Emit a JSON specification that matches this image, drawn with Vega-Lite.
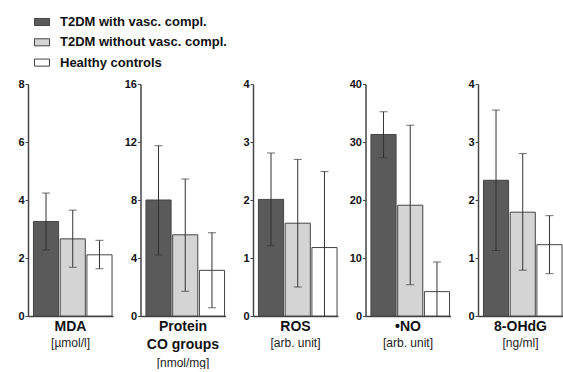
{
  "$schema": "https://vega.github.io/schema/vega-lite/v6.json",
  "padding": {"left": 17, "top": 14, "right": 0, "bottom": 0},
  "background": "white",
  "data": {"values": [
    {"panel": "MDA", "group": "T2DM with vasc. compl.", "mean": 3.26, "lo": 2.28, "hi": 4.24},
    {"panel": "MDA", "group": "T2DM without vasc. compl.", "mean": 2.66, "lo": 1.68, "hi": 3.65},
    {"panel": "MDA", "group": "Healthy controls", "mean": 2.11, "lo": 1.63, "hi": 2.61},
    {"panel": "Protein", "group": "T2DM with vasc. compl.", "mean": 8.0, "lo": 4.2, "hi": 11.75},
    {"panel": "Protein", "group": "T2DM without vasc. compl.", "mean": 5.6, "lo": 1.7, "hi": 9.45},
    {"panel": "Protein", "group": "Healthy controls", "mean": 3.15, "lo": 0.57, "hi": 5.75},
    {"panel": "ROS", "group": "T2DM with vasc. compl.", "mean": 2.01, "lo": 1.21, "hi": 2.81},
    {"panel": "ROS", "group": "T2DM without vasc. compl.", "mean": 1.6, "lo": 0.5, "hi": 2.7},
    {"panel": "ROS", "group": "Healthy controls", "mean": 1.18, "lo": -0.13, "hi": 2.49},
    {"panel": "NO", "group": "T2DM with vasc. compl.", "mean": 31.3, "lo": 27.3, "hi": 35.2},
    {"panel": "NO", "group": "T2DM without vasc. compl.", "mean": 19.1, "lo": 5.4, "hi": 32.9},
    {"panel": "NO", "group": "Healthy controls", "mean": 4.2, "lo": -0.9, "hi": 9.3},
    {"panel": "OHdG", "group": "T2DM with vasc. compl.", "mean": 2.34, "lo": 1.13, "hi": 3.55},
    {"panel": "OHdG", "group": "T2DM without vasc. compl.", "mean": 1.79, "lo": 0.79, "hi": 2.8},
    {"panel": "OHdG", "group": "Healthy controls", "mean": 1.23, "lo": 0.73, "hi": 1.73}
  ]},
  "spacing": 27.5,
  "bounds": "flush",
  "hconcat": [
    {
      "width": 85, "height": 232,
      "title": {"text": "MDA", "subtitle": "[µmol/l]"},
      "transform": [{"filter": "datum.panel === 'MDA'"}],
      "encoding": {"x": {"field": "group", "type": "nominal", "sort": ["T2DM with vasc. compl.", "T2DM without vasc. compl.", "Healthy controls"], "axis": {"labels": false, "ticks": false, "title": null}, "scale": {"paddingInner": 0.06, "paddingOuter": 0.12, "align": 0.85}}},
      "layer": [
        {"mark": {"type": "bar", "stroke": "#444", "strokeWidth": 1},
         "encoding": {"y": {"field": "mean", "type": "quantitative", "scale": {"domain": [0, 8]}, "axis": {"values": [0, 2, 4, 6, 8], "format": "d", "title": null}},
           "color": {"field": "group", "type": "nominal", "scale": {"domain": ["T2DM with vasc. compl.", "T2DM without vasc. compl.", "Healthy controls"], "range": ["#5a5a5a", "#d4d4d4", "#ffffff"]}, "legend": {"orient": "none", "legendX": 6, "legendY": -70, "title": null}}}},
        {"mark": {"type": "rule", "color": "#333", "strokeWidth": 1, "clip": true}, "encoding": {"y": {"field": "lo", "type": "quantitative"}, "y2": {"field": "hi"}}},
        {"mark": {"type": "tick", "color": "#333", "size": 8, "thickness": 1, "clip": true}, "encoding": {"y": {"field": "hi", "type": "quantitative"}}},
        {"mark": {"type": "tick", "color": "#333", "size": 8, "thickness": 1, "clip": true}, "encoding": {"y": {"field": "lo", "type": "quantitative"}}}
      ]
    },
    {
      "width": 85, "height": 232,
      "title": {"text": ["Protein", "CO groups"], "subtitle": "[nmol/mg]", "subtitlePadding": 6},
      "transform": [{"filter": "datum.panel === 'Protein'"}],
      "encoding": {"x": {"field": "group", "type": "nominal", "sort": ["T2DM with vasc. compl.", "T2DM without vasc. compl.", "Healthy controls"], "axis": {"labels": false, "ticks": false, "title": null}, "scale": {"paddingInner": 0.06, "paddingOuter": 0.12, "align": 0.85}}},
      "layer": [
        {"mark": {"type": "bar", "stroke": "#444", "strokeWidth": 1},
         "encoding": {"y": {"field": "mean", "type": "quantitative", "scale": {"domain": [0, 16]}, "axis": {"values": [0, 4, 8, 12, 16], "format": "d", "title": null}},
           "color": {"field": "group", "type": "nominal", "scale": {"domain": ["T2DM with vasc. compl.", "T2DM without vasc. compl.", "Healthy controls"], "range": ["#5a5a5a", "#d4d4d4", "#ffffff"]}, "legend": {"orient": "none", "legendX": 6, "legendY": -70, "title": null}}}},
        {"mark": {"type": "rule", "color": "#333", "strokeWidth": 1, "clip": true}, "encoding": {"y": {"field": "lo", "type": "quantitative"}, "y2": {"field": "hi"}}},
        {"mark": {"type": "tick", "color": "#333", "size": 8, "thickness": 1, "clip": true}, "encoding": {"y": {"field": "hi", "type": "quantitative"}}},
        {"mark": {"type": "tick", "color": "#333", "size": 8, "thickness": 1, "clip": true}, "encoding": {"y": {"field": "lo", "type": "quantitative"}}}
      ]
    },
    {
      "width": 85, "height": 232,
      "title": {"text": "ROS", "subtitle": "[arb. unit]"},
      "transform": [{"filter": "datum.panel === 'ROS'"}],
      "encoding": {"x": {"field": "group", "type": "nominal", "sort": ["T2DM with vasc. compl.", "T2DM without vasc. compl.", "Healthy controls"], "axis": {"labels": false, "ticks": false, "title": null}, "scale": {"paddingInner": 0.06, "paddingOuter": 0.12, "align": 0.85}}},
      "layer": [
        {"mark": {"type": "bar", "stroke": "#444", "strokeWidth": 1},
         "encoding": {"y": {"field": "mean", "type": "quantitative", "scale": {"domain": [0, 4]}, "axis": {"values": [0, 1, 2, 3, 4], "format": "d", "title": null}},
           "color": {"field": "group", "type": "nominal", "scale": {"domain": ["T2DM with vasc. compl.", "T2DM without vasc. compl.", "Healthy controls"], "range": ["#5a5a5a", "#d4d4d4", "#ffffff"]}, "legend": {"orient": "none", "legendX": 6, "legendY": -70, "title": null}}}},
        {"mark": {"type": "rule", "color": "#333", "strokeWidth": 1, "clip": true}, "encoding": {"y": {"field": "lo", "type": "quantitative"}, "y2": {"field": "hi"}}},
        {"mark": {"type": "tick", "color": "#333", "size": 8, "thickness": 1, "clip": true}, "encoding": {"y": {"field": "hi", "type": "quantitative"}}},
        {"mark": {"type": "tick", "color": "#333", "size": 8, "thickness": 1, "clip": true}, "encoding": {"y": {"field": "lo", "type": "quantitative"}}}
      ]
    },
    {
      "width": 85, "height": 232,
      "title": {"text": "•NO", "subtitle": "[arb. unit]"},
      "transform": [{"filter": "datum.panel === 'NO'"}],
      "encoding": {"x": {"field": "group", "type": "nominal", "sort": ["T2DM with vasc. compl.", "T2DM without vasc. compl.", "Healthy controls"], "axis": {"labels": false, "ticks": false, "title": null}, "scale": {"paddingInner": 0.06, "paddingOuter": 0.12, "align": 0.85}}},
      "layer": [
        {"mark": {"type": "bar", "stroke": "#444", "strokeWidth": 1},
         "encoding": {"y": {"field": "mean", "type": "quantitative", "scale": {"domain": [0, 40]}, "axis": {"values": [0, 10, 20, 30, 40], "format": "d", "title": null}},
           "color": {"field": "group", "type": "nominal", "scale": {"domain": ["T2DM with vasc. compl.", "T2DM without vasc. compl.", "Healthy controls"], "range": ["#5a5a5a", "#d4d4d4", "#ffffff"]}, "legend": {"orient": "none", "legendX": 6, "legendY": -70, "title": null}}}},
        {"mark": {"type": "rule", "color": "#333", "strokeWidth": 1, "clip": true}, "encoding": {"y": {"field": "lo", "type": "quantitative"}, "y2": {"field": "hi"}}},
        {"mark": {"type": "tick", "color": "#333", "size": 8, "thickness": 1, "clip": true}, "encoding": {"y": {"field": "hi", "type": "quantitative"}}},
        {"mark": {"type": "tick", "color": "#333", "size": 8, "thickness": 1, "clip": true}, "encoding": {"y": {"field": "lo", "type": "quantitative"}}}
      ]
    },
    {
      "width": 85, "height": 232,
      "title": {"text": "8-OHdG", "subtitle": "[ng/ml]"},
      "transform": [{"filter": "datum.panel === 'OHdG'"}],
      "encoding": {"x": {"field": "group", "type": "nominal", "sort": ["T2DM with vasc. compl.", "T2DM without vasc. compl.", "Healthy controls"], "axis": {"labels": false, "ticks": false, "title": null}, "scale": {"paddingInner": 0.06, "paddingOuter": 0.12, "align": 0.85}}},
      "layer": [
        {"mark": {"type": "bar", "stroke": "#444", "strokeWidth": 1},
         "encoding": {"y": {"field": "mean", "type": "quantitative", "scale": {"domain": [0, 4]}, "axis": {"values": [0, 1, 2, 3, 4], "format": "d", "title": null}},
           "color": {"field": "group", "type": "nominal", "scale": {"domain": ["T2DM with vasc. compl.", "T2DM without vasc. compl.", "Healthy controls"], "range": ["#5a5a5a", "#d4d4d4", "#ffffff"]}, "legend": {"orient": "none", "legendX": 6, "legendY": -70, "title": null}}}},
        {"mark": {"type": "rule", "color": "#333", "strokeWidth": 1, "clip": true}, "encoding": {"y": {"field": "lo", "type": "quantitative"}, "y2": {"field": "hi"}}},
        {"mark": {"type": "tick", "color": "#333", "size": 8, "thickness": 1, "clip": true}, "encoding": {"y": {"field": "hi", "type": "quantitative"}}},
        {"mark": {"type": "tick", "color": "#333", "size": 8, "thickness": 1, "clip": true}, "encoding": {"y": {"field": "lo", "type": "quantitative"}}}
      ]
    }
  ],
  "config": {
    "font": "Liberation Sans",
    "view": {"stroke": null},
    "axis": {"grid": false, "domainColor": "#444", "domainWidth": 1.5, "tickColor": "#444", "tickSize": 3, "labelPadding": 1, "labelFont": "Liberation Sans", "labelFontWeight": "bold", "labelFontSize": 11, "labelColor": "#111"},
    "title": {"orient": "bottom", "anchor": "middle", "offset": -1, "font": "Liberation Sans", "fontSize": 14, "fontWeight": "bold", "color": "#111", "lineHeight": 18, "subtitleFont": "Liberation Sans", "subtitleFontSize": 12, "subtitleFontWeight": "normal", "subtitleColor": "#222", "subtitlePadding": 4},
    "legend": {"symbolType": "M-1,-0.47L1,-0.47L1,0.47L-1,0.47Z", "symbolSize": 225, "symbolStrokeColor": "#444", "symbolStrokeWidth": 1, "symbolOpacity": 1, "labelFont": "Liberation Sans", "labelFontSize": 13, "labelFontWeight": "bold", "labelColor": "#111", "rowPadding": 5.3, "labelOffset": 10, "padding": 0, "labelLimit": 300}
  }
}
